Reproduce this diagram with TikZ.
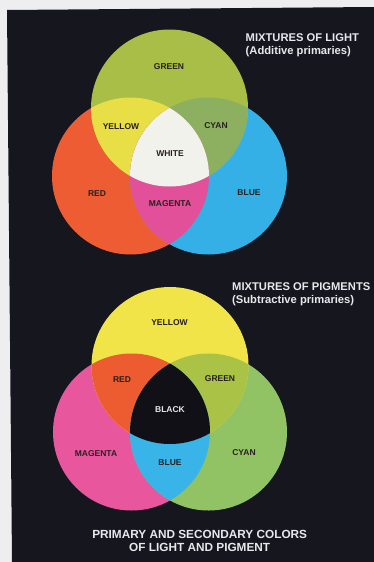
\documentclass[tikz,border=0pt]{standalone}
\usepackage{fontspec}
\setsansfont{Liberation Sans}
\definecolor{bg}{RGB}{22,22,30}
\definecolor{paper}{RGB}{238,238,240}
\definecolor{ink}{RGB}{40,32,32}
\definecolor{titlecol}{RGB}{232,232,236}
% light
\definecolor{lgreen}{RGB}{168,190,70}
\definecolor{lred}{RGB}{238,92,52}
\definecolor{lblue}{RGB}{52,176,230}
\definecolor{lyellow}{RGB}{232,222,70}
\definecolor{lcyan}{RGB}{140,176,96}
\definecolor{lmagenta}{RGB}{226,80,154}
\definecolor{lwhite}{RGB}{242,242,236}
% pigment
\definecolor{pyellow}{RGB}{240,228,72}
\definecolor{pmagenta}{RGB}{232,86,158}
\definecolor{pcyan}{RGB}{145,195,100}
\definecolor{pred}{RGB}{236,92,48}
\definecolor{pgreen}{RGB}{170,194,70}
\definecolor{pblue}{RGB}{56,180,232}
\definecolor{pblack}{RGB}{16,16,22}
\begin{document}
\begin{tikzpicture}[x=1pt,y=-1pt,
  lbl/.style={font=\sffamily\bfseries\fontsize{8.5}{10}\selectfont, text=ink, inner sep=0pt},
  ttl/.style={font=\sffamily\bfseries\fontsize{11.2}{13}\selectfont, text=titlecol, inner sep=0pt, anchor=base west},
  captext/.style={font=\sffamily\bfseries\fontsize{11.8}{13}\selectfont, text=titlecol, inner sep=0pt, anchor=base}]
\def\rad{78.5pt}
\useasboundingbox (0,0) rectangle (374,562);
\fill[paper] (0,0) rectangle (374,562);
\fill[bg] (7,10) -- (374,7) -- (374,562) -- (12,562) -- cycle;

% --- additive mixing of light ---
\coordinate (cg) at (169.5,108);
\coordinate (cr) at (130.5,176);
\coordinate (cb) at (208.5,176);
\fill[lred] (cr) circle[radius=\rad];
\fill[lblue] (cb) circle[radius=\rad];
\fill[lgreen] (cg) circle[radius=\rad];
\begin{scope}\clip (cr) circle[radius=\rad]; \fill[lyellow] (cg) circle[radius=\rad];\end{scope}
\begin{scope}\clip (cb) circle[radius=\rad]; \fill[lcyan] (cg) circle[radius=\rad];\end{scope}
\begin{scope}\clip (cr) circle[radius=\rad]; \fill[lmagenta] (cb) circle[radius=\rad];\end{scope}
\begin{scope}\clip (cr) circle[radius=\rad]; \clip (cb) circle[radius=\rad]; \fill[lwhite] (cg) circle[radius=\rad];\end{scope}

\node[lbl] (lgreenlbl) at (169,67) {GREEN};
\node[lbl] (lyellowlbl) at (121,127) {YELLOW};
\node[lbl] (lcyanlbl) at (216,126) {CYAN};
\node[lbl] (lwhitelbl) at (170,154) {WHITE};
\node[lbl] (lredlbl) at (97,194) {RED};
\node[lbl] (lbluelbl) at (249,193) {BLUE};
\node[lbl] (lmagentalbl) at (170,204) {MAGENTA};
\node[ttl] (lighttitle) at (245.5,41) {MIXTURES OF LIGHT};
\node[ttl] (lightsub) at (245.5,54) {(Additive primaries)};

% --- subtractive mixing of pigments ---
\coordinate (py) at (170,365.5);
\coordinate (pm) at (131.5,432);
\coordinate (pc) at (208.5,432);
\fill[pmagenta] (pm) circle[radius=\rad];
\fill[pcyan] (pc) circle[radius=\rad];
\fill[pyellow] (py) circle[radius=\rad];
\begin{scope}\clip (pm) circle[radius=\rad]; \fill[pred] (py) circle[radius=\rad];\end{scope}
\begin{scope}\clip (pc) circle[radius=\rad]; \fill[pgreen] (py) circle[radius=\rad];\end{scope}
\begin{scope}\clip (pm) circle[radius=\rad]; \fill[pblue] (pc) circle[radius=\rad];\end{scope}
\begin{scope}\clip (pm) circle[radius=\rad]; \clip (pc) circle[radius=\rad]; \fill[pblack] (py) circle[radius=\rad];\end{scope}

\node[lbl] (pyellowlbl) at (169.5,323) {YELLOW};
\node[lbl] (predlbl) at (122,380) {RED};
\node[lbl] (pgreenlbl) at (220,379) {GREEN};
\node[lbl, text=titlecol] (pblacklbl) at (170,410) {BLACK};
\node[lbl] (pmagentalbl) at (96,454) {MAGENTA};
\node[lbl] (pbluelbl) at (170,463) {BLUE};
\node[lbl] (pcyanlbl) at (244,453) {CYAN};
\node[ttl] (pigmenttitle) at (232,290) {MIXTURES OF PIGMENTS};
\node[ttl] (pigmentsub) at (232,303.5) {(Subtractive primaries)};

\node[captext] (caption1) at (199.7,538) {PRIMARY AND SECONDARY COLORS};
\node[captext] (caption2) at (199.7,551.3) {OF LIGHT AND PIGMENT};
\end{tikzpicture}
\end{document}
